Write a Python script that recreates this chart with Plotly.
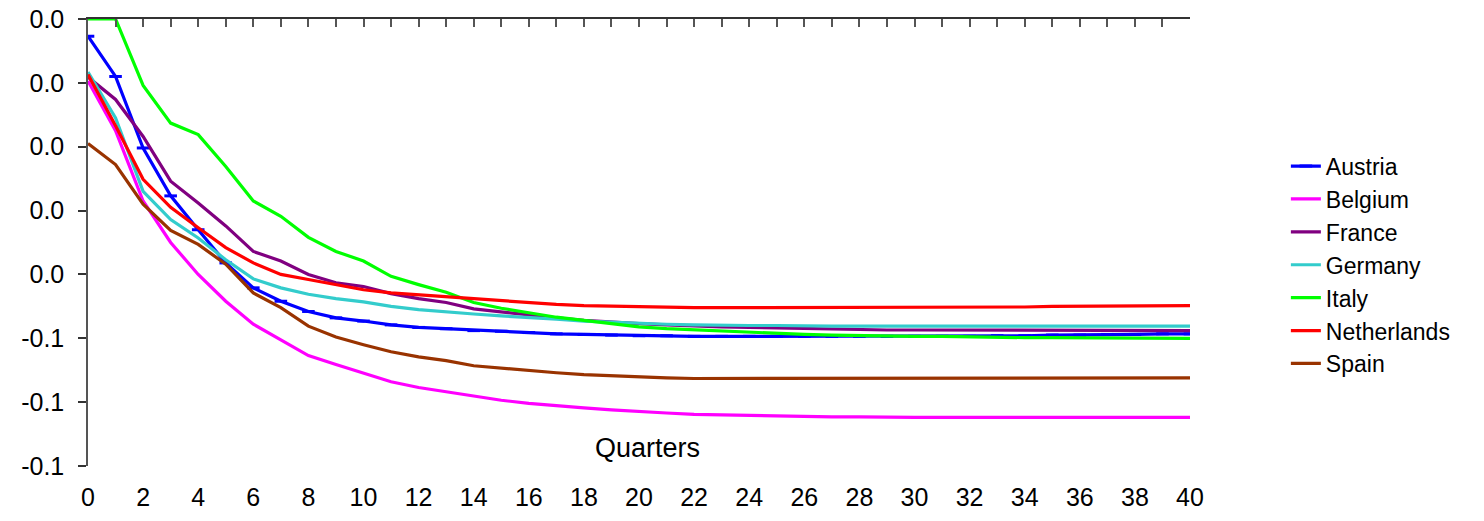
import plotly.graph_objects as go

quarters = list(range(41))

austria = [-0.0027, -0.0090, -0.0202, -0.0277, -0.0330, -0.0382, -0.0421, -0.0442, -0.0458, -0.0468,
           -0.0473, -0.0479, -0.0483, -0.0485, -0.0488, -0.0489, -0.0491, -0.0493, -0.0494, -0.0495,
           -0.0496, -0.0496, -0.0497, -0.0497, -0.0497, -0.0497, -0.0497, -0.0497, -0.0497, -0.0497,
           -0.0497, -0.0497, -0.0497, -0.0496, -0.0496, -0.0495, -0.0495, -0.0494, -0.0494, -0.0493, -0.0493]
belgium = [-0.0097, -0.0175, -0.0285, -0.0350, -0.0400, -0.0442, -0.0478, -0.0502, -0.0527, -0.0541,
           -0.0555, -0.0568, -0.0577, -0.0584, -0.0591, -0.0597, -0.0602, -0.0606, -0.0609, -0.0612,
           -0.0615, -0.0617, -0.0619, -0.0620, -0.0621, -0.0622, -0.0622, -0.0623, -0.0623, -0.0624,
           -0.0624, -0.0624, -0.0624, -0.0624, -0.0624, -0.0624, -0.0624, -0.0624, -0.0624, -0.0624, -0.0624]
france = [-0.0091, -0.0126, -0.0184, -0.0254, -0.0288, -0.0324, -0.0364, -0.0379, -0.0400, -0.0413,
          -0.0419, -0.0430, -0.0438, -0.0444, -0.0454, -0.0459, -0.0463, -0.0468, -0.0472, -0.0475,
          -0.0477, -0.0479, -0.0481, -0.0482, -0.0483, -0.0484, -0.0485, -0.0486, -0.0486, -0.0487,
          -0.0487, -0.0487, -0.0488, -0.0488, -0.0488, -0.0488, -0.0488, -0.0488, -0.0488, -0.0488, -0.0488]
germany = [-0.0083, -0.0155, -0.0270, -0.0314, -0.0343, -0.0377, -0.0407, -0.0421, -0.0431, -0.0438,
           -0.0443, -0.0450, -0.0455, -0.0459, -0.0462, -0.0465, -0.0467, -0.0470, -0.0473, -0.0475,
           -0.0477, -0.0478, -0.0479, -0.0480, -0.0480, -0.0480, -0.0481, -0.0481, -0.0481, -0.0481,
           -0.0481, -0.0481, -0.0481, -0.0481, -0.0481, -0.0481, -0.0481, -0.0481, -0.0481, -0.0481, -0.0481]
italy = [0.0000, 0.0000, -0.0104, -0.0163, -0.0181, -0.0231, -0.0285, -0.0309, -0.0342, -0.0364,
         -0.0379, -0.0403, -0.0416, -0.0428, -0.0444, -0.0453, -0.0460, -0.0467, -0.0472, -0.0477,
         -0.0482, -0.0485, -0.0487, -0.0489, -0.0491, -0.0492, -0.0494, -0.0495, -0.0496, -0.0496,
         -0.0497, -0.0497, -0.0498, -0.0498, -0.0499, -0.0499, -0.0499, -0.0500, -0.0500, -0.0500, -0.0500]
netherlands = [-0.0087, -0.0167, -0.0251, -0.0295, -0.0327, -0.0358, -0.0382, -0.0400, -0.0408, -0.0416,
               -0.0424, -0.0429, -0.0432, -0.0436, -0.0439, -0.0442, -0.0444, -0.0447, -0.0449, -0.0450,
               -0.0451, -0.0452, -0.0452, -0.0452, -0.0452, -0.0452, -0.0452, -0.0452, -0.0452, -0.0452,
               -0.0452, -0.0451, -0.0451, -0.0451, -0.0451, -0.0450, -0.0450, -0.0450, -0.0449, -0.0449, -0.0449]
spain = [-0.0195, -0.0228, -0.0290, -0.0331, -0.0353, -0.0384, -0.0429, -0.0452, -0.0481, -0.0498,
         -0.0510, -0.0521, -0.0529, -0.0535, -0.0543, -0.0547, -0.0550, -0.0554, -0.0557, -0.0559,
         -0.0561, -0.0562, -0.0563, -0.0563, -0.0563, -0.0563, -0.0563, -0.0563, -0.0563, -0.0563,
         -0.0563, -0.0563, -0.0563, -0.0563, -0.0563, -0.0562, -0.0562, -0.0562, -0.0562, -0.0562, -0.0562]

series = [
    ("Austria", austria, "#0000FF"),
    ("Belgium", belgium, "#FF00FF"),
    ("France", france, "#800080"),
    ("Germany", germany, "#33CCCC"),
    ("Italy", italy, "#00FF00"),
    ("Netherlands", netherlands, "#FF0000"),
    ("Spain", spain, "#993300"),
]

y_tickvals = [0.0, -0.01, -0.02, -0.03, -0.04, -0.05, -0.06, -0.07]
y_ticktext = ["0.0", "0.0", "0.0", "0.0", "0.0", "-0.1", "-0.1", "-0.1"]
x_tickvals = list(range(0, 41, 2))

FONT = "Liberation Sans, Arial, sans-serif"
FS = 25

fig = go.Figure()
for name, vals, color in series:
    if name == "Austria":
        fig.add_trace(go.Scatter(
            x=quarters, y=vals, name=name, mode="lines+markers",
            line=dict(color=color, width=3.2),
            marker=dict(symbol="line-ew", size=9, line=dict(color=color, width=3)),
        ))
    else:
        fig.add_trace(go.Scatter(
            x=quarters, y=vals, name=name, mode="lines",
            line=dict(color=color, width=3.2),
        ))

# invisible trace carrying the top axis (line with per-quarter ticks)
fig.add_trace(go.Scatter(x=[0, 40], y=[0, 0], xaxis="x2", mode="lines",
                         line=dict(width=0), showlegend=False, hoverinfo="skip"))

fig.update_layout(
    width=1484, height=521,
    margin=dict(l=88, r=294, t=19, b=55, autoexpand=False),
    paper_bgcolor="white", plot_bgcolor="white",
    font=dict(family=FONT, size=FS, color="black"),
    showlegend=True,
    legend=dict(x=1.087, y=0.719, xanchor="left", yanchor="top",
                font=dict(family=FONT, size=23), tracegroupgap=0,
                bgcolor="rgba(0,0,0,0)"),
    xaxis=dict(range=[0, 40], tickvals=x_tickvals, showline=False, showgrid=False,
               zeroline=False, ticks="", ticklabelstandoff=14,
               tickfont=dict(family=FONT, size=FS)),
    xaxis2=dict(range=[0, 40], overlaying="x", side="top", showline=True,
                linecolor="#333333", linewidth=1.5, ticks="inside", ticklen=8,
                tickcolor="#555555", tickwidth=1.5, dtick=1, tick0=0,
                showticklabels=False, showgrid=False, zeroline=False),
    yaxis=dict(range=[-0.07, 0.0], tickvals=y_tickvals, ticktext=y_ticktext,
               showline=True, linecolor="#555555", linewidth=1.5,
               ticks="outside", ticklen=8, tickcolor="#333333", tickwidth=1.5,
               showgrid=False, zeroline=False, ticklabelstandoff=9,
               tickfont=dict(family=FONT, size=FS)),
    annotations=[dict(x=20.3, y=-0.0672, xref="x", yref="y", text="Quarters",
                      showarrow=False, font=dict(family=FONT, size=27))],
)

fig.write_html("out.html")
